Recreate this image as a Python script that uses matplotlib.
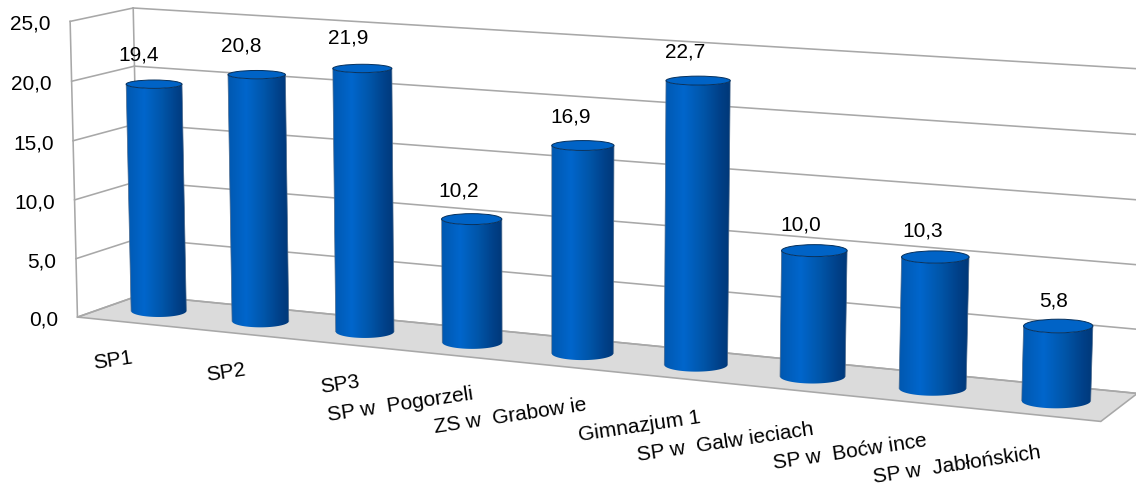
import numpy as np
import matplotlib
matplotlib.use("Agg")
import matplotlib.pyplot as plt
from matplotlib.patches import Ellipse, Polygon
from matplotlib.colors import LinearSegmentedColormap
from matplotlib.transforms import Transform

categories = ["SP1", "SP2", "SP3", "SP w  Pogorzeli", "ZS w  Grabow ie", "Gimnazjum 1",
              "SP w  Galw ieciach", "SP w  Boćw ince", "SP w  Jabłońskich"]
values = [19.4, 20.8, 21.9, 10.2, 16.9, 22.7, 10.0, 10.3, 5.8]
y_ticks = [0, 5, 10, 15, 20, 25]

plt.rcParams["font.family"] = ["Liberation Sans", "DejaVu Sans"]
W, H = 1136, 486

# camera calibration: (category axis, depth, value) -> pixel
calib_world = np.array([
    (0, 0, 0), (0, 1, 0), (0, 0, 25), (0, 1, 25), (9, 0, 0), (9, 1, 0), (9, 1, 25),
    (0.5, .5, 0), (8.5, .5, 0), (5.5, .5, 0), (0.5, .5, 19.4), (8.5, .5, 5.8), (5.5, .5, 22.7),
], float)
calib_px = np.array([
    (77.5, 316), (139, 295.5), (70, 21), (133.5, 8), (1101, 422), (1137, 393), (1148, 68.5),
    (158.5, 312), (1056, 400), (697, 365), (154.5, 84), (1058, 326.5), (697, 82),
], float)
A, b = [], []
for (X, Y, Z), (u, v) in zip(calib_world, calib_px):
    A.append([X, Y, Z, 1, 0, 0, 0, 0, -u * X, -u * Y, -u * Z]); b.append(u)
    A.append([0, 0, 0, 0, X, Y, Z, 1, -v * X, -v * Y, -v * Z]); b.append(v)
P = np.append(np.linalg.lstsq(np.array(A), np.array(b), rcond=None)[0], 1).reshape(3, 4)


class Perspective(Transform):
    """Maps (category position, value) on the plane at a given depth to pixels."""
    input_dims = output_dims = 2
    is_affine = False
    has_inverse = False

    def __init__(self, plane_depth):
        super().__init__()
        self.plane_depth = plane_depth

    def transform_non_affine(self, xy):
        xy = np.asarray(xy, float).reshape(-1, 2)
        w = np.column_stack([xy[:, 0], np.full(len(xy), self.plane_depth), xy[:, 1], np.ones(len(xy))])
        q = w @ P.T
        return q[:, :2] / q[:, 2:]


front, mid, back = Perspective(0), Perspective(.5), Perspective(1)

fig = plt.figure(figsize=(W / 100, H / 100), dpi=100, facecolor="white")
ax = fig.add_axes([0, 0, 1, 1])
ax.axis("off")

n = len(categories)
ymax = y_ticks[-1]
GRID = "#a8a8a8"
LW = 1.15


def px(t, pts):
    return t.transform(np.array(pts, float))


# floor
floor = np.vstack([px(front, [(0, 0), (n, 0)]), px(back, [(n, 0), (0, 0)])])
ax.add_patch(Polygon(floor, closed=True, facecolor="#dbdbdb", edgecolor=GRID, lw=LW, zorder=1))

# walls and gridlines
for v in y_ticks:
    ax.plot([0, n], [v, v], transform=back + ax.transData, color=GRID, lw=LW, zorder=2)
    a, c = px(front, [(0, v)])[0], px(back, [(0, v)])[0]
    ax.plot([a[0], c[0]], [a[1], c[1]], color=GRID, lw=LW, zorder=2)
    ax.text(a[0] - 19.5, a[1] + 3, f"{v:.1f}".replace(".", ","), ha="right", va="center",
            fontsize=15, color="black", zorder=6)
ax.plot([0, 0], [0, ymax], transform=front + ax.transData, color=GRID, lw=LW, zorder=2)
ax.plot([0, 0], [0, ymax], transform=back + ax.transData, color=GRID, lw=LW, zorder=2)

# cylinders
shade = LinearSegmentedColormap.from_list("shade", [
    (0, "#0058b0"), (.3, "#0066cc"), (.6, "#0055a8"), (.85, "#004088"), (1, "#003878")])
gradient = np.linspace(0, 1, 256).reshape(1, -1)
RX, RD = 0.275, 0.27
label_dx = [-15, -15, -14, -13, -12, -13, -14, -13, -5]
label_dy = [-29, -29, -30, -28, -29, -29, -26, -26, -25]


def ellipse_at(x, v):
    c = px(mid, [(x, v)])[0]
    ends = px(mid, [(x - RX, v), (x + RX, v)])
    d = px(front, [(x, v)])[0][1] - px(back, [(x, v)])[0][1]
    return c, (ends[1][0] - ends[0][0]) / 2, abs(d) * RD


for i, val in enumerate(values):
    x = i + .5
    (tc, tw, th), (bc, bw, bh) = ellipse_at(x, val), ellipse_at(x, 0)
    z = 3 + i * 0.01
    t = np.linspace(0, np.pi, 60)
    top_edge = np.column_stack([tc[0] - tw * np.cos(t), tc[1] + th * np.sin(t)])
    bot_edge = np.column_stack([bc[0] - bw * np.cos(t), bc[1] + bh * np.sin(t)])
    body = Polygon(np.vstack([top_edge, bot_edge[::-1]]), closed=True, transform=ax.transData,
                   facecolor="none", edgecolor="none")
    ax.add_patch(body)
    left, right = min(tc[0] - tw, bc[0] - bw), max(tc[0] + tw, bc[0] + bw)
    img = ax.imshow(gradient, cmap=shade, aspect="auto", interpolation="bilinear",
                    extent=(left, right, bc[1] + bh + 1, tc[1] - 1), zorder=z)
    img.set_clip_path(body)
    ax.plot([tc[0] - tw, bc[0] - bw], [tc[1], bc[1]], color="#4d6a8c", lw=0.5, zorder=z + .001)
    ax.plot([tc[0] + tw, bc[0] + bw], [tc[1], bc[1]], color="#4d6a8c", lw=0.5, zorder=z + .001)
    ax.add_patch(Ellipse(tc, 2 * tw, 2 * th, facecolor="#0063c6", edgecolor="#06305c",
                         lw=0.7, zorder=z + .002))
    ax.annotate(f"{val:.1f}".replace(".", ","), xy=tc, xytext=(label_dx[i], -label_dy[i]),
                textcoords="offset pixels", ha="center", va="center", fontsize=15,
                color="black", zorder=6)

# category labels: right-anchored, evenly stepped
for i, name in enumerate(categories):
    ax.text(132 + 113.6 * i, 358 + 11.8 * i, name, rotation=8.5, rotation_mode="anchor",
            ha="right", va="center", fontsize=15, color="black", zorder=6)

ax.set_xlim(0, W)
ax.set_ylim(H, 0)
fig.savefig("out.png", dpi=100, facecolor="white")
